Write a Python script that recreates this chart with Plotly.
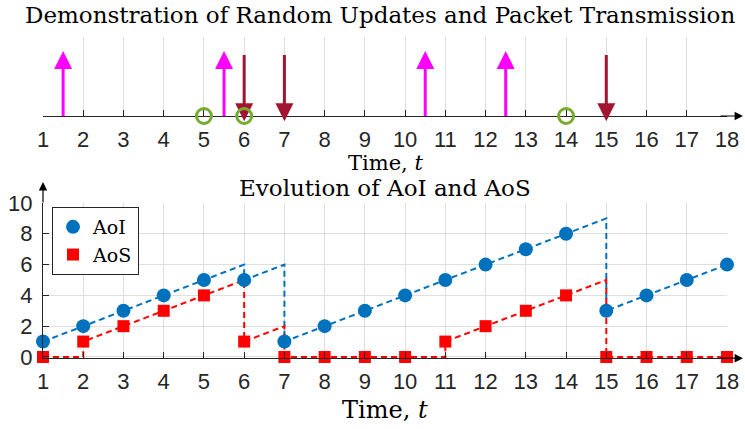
import plotly.graph_objects as go

# ---------------- data ----------------
t = list(range(1, 19))
tick_labels = [str(v) for v in t]
aoi = [1, 2, 3, 4, 5, 5, 1, 2, 3, 4, 5, 6, 7, 8, 3, 4, 5, 6]
aoi_before = [1, 2, 3, 4, 5, 6, 6, 2, 3, 4, 5, 6, 7, 8, 9, 4, 5, 6]
aos = [0, 1, 2, 3, 4, 1, 0, 0, 0, 0, 1, 2, 3, 4, 0, 0, 0, 0]
aos_before = [0, 0, 2, 3, 4, 5, 2, 0, 0, 0, 0, 2, 3, 4, 5, 0, 0, 0]
update_times = [1.5, 5.5, 10.5, 12.5]
transmit_times = [6, 7, 15]
circle_times = [5, 6, 14]
y_ticks = [0, 2, 4, 6, 8, 10]

# ---------------- style constants ----------------
W, H = 745, 429
X0, X1 = 43, 727
TOP_Y0, TOP_Y1 = 37, 116          # top panel: plot top / axis line (px)
OVL_Y1 = 127                      # overlay subplot bottom (px) so arrow tips below the axis stay in range
BOT_Y0, BOT_Y1 = 203, 358.2
UP_TIP, UP_BASE = 0.823, 0.64
DN_TOP, DN_TIP, DN_BASE = 0.772, -0.068, 0.14
OVL_RANGE = [-(OVL_Y1 - TOP_Y1) / (TOP_Y1 - TOP_Y0), 1]

MAGENTA = "#FF00FF"
DARKRED = "#A2142F"
GREEN = "#77AC30"
BLUE = "#0072BD"
RED = "#FF0000"
AX = "#262626"
GRID = "#dfdfdf"
SANS = "Liberation Sans"
SERIF = "DejaVu Serif"


def px_x(p):
    return p / W


def px_y(p):
    return 1 - p / H


def saw(ts, before, after):
    xs, ys = [], []
    for ti, b, a in zip(ts, before, after):
        xs += [ti, ti]
        ys += [b, a]
    return xs, ys


fig = go.Figure()

# ---- top panel (drawn on overlay subplot x3/y3) ----
sx, sy = [], []
for u in update_times:
    sx += [u, u, None]
    sy += [0, UP_BASE, None]
fig.add_trace(go.Scatter(x=sx, y=sy, mode="lines", line=dict(color=MAGENTA, width=3),
                         showlegend=False, xaxis="x3", yaxis="y3", hoverinfo="skip"))
fig.add_trace(go.Scatter(x=update_times, y=[UP_TIP] * len(update_times), mode="markers",
                         marker=dict(symbol="arrow-up", size=18, color=MAGENTA, line=dict(width=0)),
                         cliponaxis=False, showlegend=False, xaxis="x3", yaxis="y3"))
dx, dy = [], []
for s in transmit_times:
    dx += [s, s, None]
    dy += [DN_TOP, DN_BASE, None]
fig.add_trace(go.Scatter(x=dx, y=dy, mode="lines", line=dict(color=DARKRED, width=3),
                         showlegend=False, xaxis="x3", yaxis="y3", hoverinfo="skip"))
fig.add_trace(go.Scatter(x=transmit_times, y=[DN_TIP] * len(transmit_times), mode="markers",
                         marker=dict(symbol="arrow-down", size=18, color=DARKRED, line=dict(width=0)),
                         cliponaxis=False, showlegend=False, xaxis="x3", yaxis="y3"))
fig.add_trace(go.Scatter(x=circle_times, y=[0] * len(circle_times), mode="markers",
                         marker=dict(symbol="circle-open", size=15, color=GREEN, line=dict(width=3, color=GREEN)),
                         cliponaxis=False, showlegend=False, xaxis="x3", yaxis="y3"))

# ---- bottom panel ----
ax_, ay_ = saw(t, aoi_before, aoi)
bx_, by_ = saw(t, aos_before, aos)
fig.add_trace(go.Scatter(x=ax_, y=ay_, mode="lines", line=dict(color=BLUE, width=2, dash="6px,4px"),
                         showlegend=False, xaxis="x2", yaxis="y2", hoverinfo="skip"))
fig.add_trace(go.Scatter(x=bx_, y=by_, mode="lines", line=dict(color=RED, width=2, dash="6px,4px"),
                         showlegend=False, xaxis="x2", yaxis="y2", hoverinfo="skip"))
fig.add_trace(go.Scatter(x=t, y=aoi, mode="markers", name="AoI",
                         marker=dict(symbol="circle", size=14, color=BLUE),
                         cliponaxis=False, xaxis="x2", yaxis="y2"))
fig.add_trace(go.Scatter(x=t, y=aos, mode="markers", name="AoS",
                         marker=dict(symbol="square", size=12, color=RED),
                         cliponaxis=False, xaxis="x2", yaxis="y2"))

# dummy trace so the top axis subplot exists
fig.add_trace(go.Scatter(x=[None], y=[None], mode="markers", showlegend=False,
                         xaxis="x", yaxis="y", hoverinfo="skip"))

xcommon = dict(range=[1, 18], tickmode="array", tickvals=t, ticktext=tick_labels,
               showline=True, linecolor=AX, linewidth=1, ticks="inside", ticklen=6,
               tickcolor=AX, showgrid=True, gridcolor=GRID, gridwidth=1, zeroline=False,
               tickfont=dict(family=SANS, size=22, color=AX), domain=[px_x(X0), px_x(X1)],
               automargin=False)

fig.update_layout(
    width=W, height=H, autosize=False,
    margin=dict(l=0, r=0, t=0, b=0, pad=0, autoexpand=False),
    paper_bgcolor="white", plot_bgcolor="rgba(0,0,0,0)",
    xaxis=dict(anchor="y", ticklabelstandoff=4, **xcommon),
    yaxis=dict(domain=[px_y(TOP_Y1), px_y(TOP_Y0)], range=[0, 1], visible=False, anchor="x"),
    xaxis3=dict(domain=[px_x(X0), px_x(X1)], range=[1, 18], visible=False, anchor="y3"),
    yaxis3=dict(domain=[px_y(OVL_Y1), px_y(TOP_Y0)], range=OVL_RANGE, visible=False, anchor="x3"),
    xaxis2=dict(anchor="y2", ticklabelstandoff=3, **xcommon),
    yaxis2=dict(domain=[px_y(BOT_Y1), px_y(BOT_Y0)], range=[-0.08, 10], anchor="x2",
                tickmode="array", tickvals=y_ticks, showline=True, linecolor=AX, linewidth=1,
                ticks="inside", ticklen=6, tickcolor=AX, showgrid=True, gridcolor=GRID,
                zeroline=False, tickfont=dict(family=SANS, size=22, color=AX),
                automargin=False, ticklabelstandoff=5),
    legend=dict(x=px_x(52), y=px_y(207), xanchor="left", yanchor="top",
                bgcolor="white", bordercolor=AX, borderwidth=1,
                font=dict(family=SERIF, size=19, color="black")),
    showlegend=True,
)

ann = [
    dict(text="Demonstration of Random Updates and Packet Transmission", x=px_x(380), y=px_y(15), size=23),
    dict(text="Time, <i>t</i>", x=px_x(385), y=px_y(162.5), size=21),
    dict(text="Evolution of AoI and AoS", x=px_x(385), y=px_y(188), size=23),
    dict(text="Time, <i>t</i>", x=px_x(385), y=px_y(410), size=24),
]
for a in ann:
    size = a.pop("size")
    fig.add_annotation(xref="paper", yref="paper", xanchor="center", yanchor="middle",
                       showarrow=False, font=dict(family=SERIF, size=size, color="black"), **a)

# axis arrows
for (hx, hy, axo, ayo) in [(743, TOP_Y1, -24, 0), (743, BOT_Y1, -24, 0), (X0, 182, 0, 22)]:
    fig.add_annotation(xref="paper", yref="paper", x=px_x(hx), y=px_y(hy), text="",
                       showarrow=True, ax=axo, ay=ayo, arrowhead=2, arrowsize=1.4,
                       arrowwidth=1.2, arrowcolor="black", standoff=0, startstandoff=0)

fig.write_html("out.html", config={"displayModeBar": False},
               post_script="document.body.style.margin='0';")
